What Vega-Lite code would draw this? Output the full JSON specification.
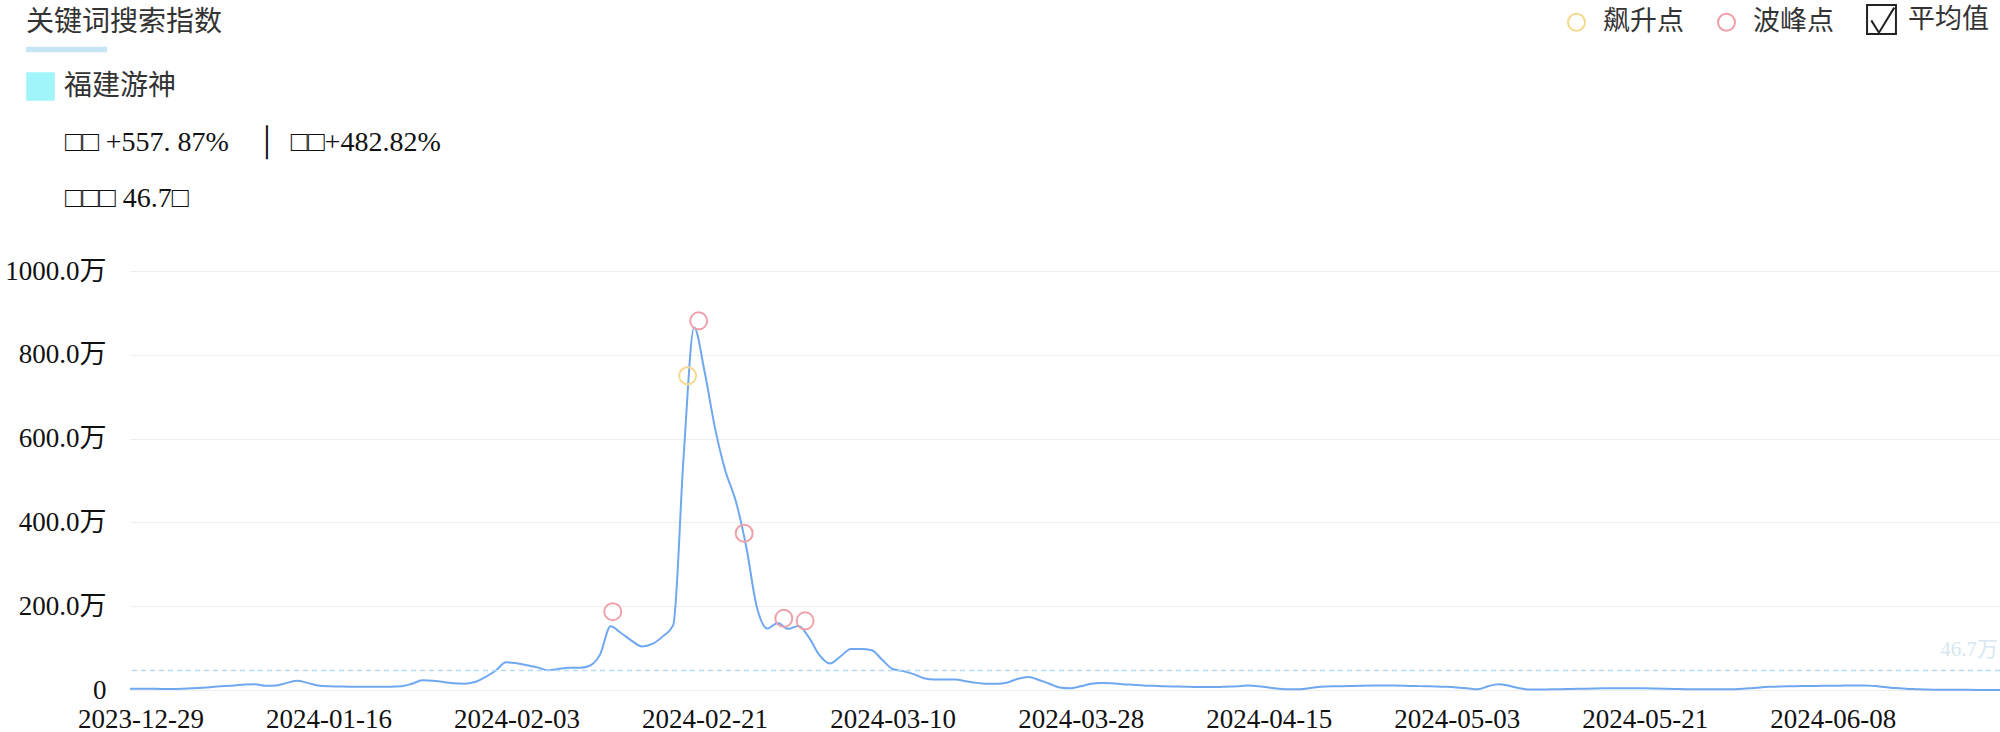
{
 "$schema": "https://vega.github.io/schema/vega-lite/v6.json",
 "autosize": {"type": "none"},
 "width": 1870,
 "height": 419,
 "padding": {"left": 130, "top": 271, "right": 0, "bottom": 42},
 "background": "white",
 "layer": [
  {
   "data": {"values": [
    {"d":"2023-12-28","v":3},{"d":"2023-12-29","v":3},{"d":"2023-12-30","v":3},{"d":"2023-12-31","v":2.5},
    {"d":"2024-01-01","v":2.5},{"d":"2024-01-02","v":3},{"d":"2024-01-03","v":4},{"d":"2024-01-04","v":5.5},
    {"d":"2024-01-05","v":7.5},{"d":"2024-01-06","v":9.5},{"d":"2024-01-07","v":11},{"d":"2024-01-08","v":13},
    {"d":"2024-01-09","v":14},{"d":"2024-01-10","v":10},{"d":"2024-01-11","v":11},{"d":"2024-01-12","v":17},
    {"d":"2024-01-13","v":22},{"d":"2024-01-14","v":17},{"d":"2024-01-15","v":11},{"d":"2024-01-16","v":9},
    {"d":"2024-01-17","v":8.5},{"d":"2024-01-18","v":8},{"d":"2024-01-19","v":8},{"d":"2024-01-20","v":8},
    {"d":"2024-01-21","v":8},{"d":"2024-01-22","v":8},{"d":"2024-01-23","v":9},{"d":"2024-01-24","v":15},
    {"d":"2024-01-25","v":23},{"d":"2024-01-26","v":22},{"d":"2024-01-27","v":19},{"d":"2024-01-28","v":16},
    {"d":"2024-01-29","v":15},{"d":"2024-01-30","v":19},{"d":"2024-01-31","v":31},{"d":"2024-02-01","v":46},
    {"d":"2024-02-02","v":66},{"d":"2024-02-03","v":64},{"d":"2024-02-04","v":59},{"d":"2024-02-05","v":54},
    {"d":"2024-02-06","v":47},{"d":"2024-02-07","v":50},{"d":"2024-02-08","v":53},{"d":"2024-02-09","v":53},
    {"d":"2024-02-10","v":58},{"d":"2024-02-11","v":85},{"d":"2024-02-12","v":152},{"d":"2024-02-13","v":136},
    {"d":"2024-02-14","v":118},{"d":"2024-02-15","v":104},{"d":"2024-02-16","v":110},{"d":"2024-02-17","v":128},
    {"d":"2024-02-18","v":155},{"d":"2024-02-19","v":560},{"d":"2024-02-20","v":865},{"d":"2024-02-21","v":760},
    {"d":"2024-02-22","v":625},{"d":"2024-02-23","v":522},{"d":"2024-02-24","v":450},{"d":"2024-02-25","v":340},
    {"d":"2024-02-26","v":198},{"d":"2024-02-27","v":147},{"d":"2024-02-28","v":160},{"d":"2024-02-29","v":146},
    {"d":"2024-03-01","v":153},{"d":"2024-03-02","v":125},{"d":"2024-03-03","v":83},{"d":"2024-03-04","v":63},
    {"d":"2024-03-05","v":80},{"d":"2024-03-06","v":98},{"d":"2024-03-07","v":98},{"d":"2024-03-08","v":95},
    {"d":"2024-03-09","v":72},{"d":"2024-03-10","v":50},{"d":"2024-03-11","v":45},{"d":"2024-03-12","v":38},
    {"d":"2024-03-13","v":28},{"d":"2024-03-14","v":25},{"d":"2024-03-15","v":25},{"d":"2024-03-16","v":25},
    {"d":"2024-03-17","v":21},{"d":"2024-03-18","v":17},{"d":"2024-03-19","v":15},{"d":"2024-03-20","v":15},
    {"d":"2024-03-21","v":18},{"d":"2024-03-22","v":27},{"d":"2024-03-23","v":31},{"d":"2024-03-24","v":24},
    {"d":"2024-03-25","v":15},{"d":"2024-03-26","v":6},{"d":"2024-03-27","v":4},{"d":"2024-03-28","v":9},
    {"d":"2024-03-29","v":15},{"d":"2024-03-30","v":17},{"d":"2024-03-31","v":16},{"d":"2024-04-01","v":14},
    {"d":"2024-04-02","v":12.5},{"d":"2024-04-03","v":11},{"d":"2024-04-04","v":10},{"d":"2024-04-05","v":9},
    {"d":"2024-04-06","v":8.5},{"d":"2024-04-07","v":8},{"d":"2024-04-08","v":7},{"d":"2024-04-09","v":7},
    {"d":"2024-04-10","v":7},{"d":"2024-04-11","v":8},{"d":"2024-04-12","v":9},{"d":"2024-04-13","v":10.5},
    {"d":"2024-04-14","v":9},{"d":"2024-04-15","v":6},{"d":"2024-04-16","v":3},{"d":"2024-04-17","v":1.5},
    {"d":"2024-04-18","v":2},{"d":"2024-04-19","v":5},{"d":"2024-04-20","v":8},{"d":"2024-04-21","v":9},
    {"d":"2024-04-22","v":9},{"d":"2024-04-23","v":9.5},{"d":"2024-04-24","v":10},{"d":"2024-04-25","v":10.5},
    {"d":"2024-04-26","v":11},{"d":"2024-04-27","v":10.5},{"d":"2024-04-28","v":10},{"d":"2024-04-29","v":9.5},
    {"d":"2024-04-30","v":9},{"d":"2024-05-01","v":8.5},{"d":"2024-05-02","v":7.5},{"d":"2024-05-03","v":6},
    {"d":"2024-05-04","v":4},{"d":"2024-05-05","v":1.5},{"d":"2024-05-06","v":9},{"d":"2024-05-07","v":14},
    {"d":"2024-05-08","v":10},{"d":"2024-05-09","v":4},{"d":"2024-05-10","v":1},{"d":"2024-05-11","v":1},
    {"d":"2024-05-12","v":1.5},{"d":"2024-05-13","v":2},{"d":"2024-05-14","v":2.5},{"d":"2024-05-15","v":3},
    {"d":"2024-05-16","v":3.5},{"d":"2024-05-17","v":4},{"d":"2024-05-18","v":4},{"d":"2024-05-19","v":4},
    {"d":"2024-05-20","v":4},{"d":"2024-05-21","v":4},{"d":"2024-05-22","v":3.5},{"d":"2024-05-23","v":3},
    {"d":"2024-05-24","v":2.5},{"d":"2024-05-25","v":2},{"d":"2024-05-26","v":2},{"d":"2024-05-27","v":2},
    {"d":"2024-05-28","v":2},{"d":"2024-05-29","v":2},{"d":"2024-05-30","v":2.5},{"d":"2024-05-31","v":4},
    {"d":"2024-06-01","v":6},{"d":"2024-06-02","v":7.5},{"d":"2024-06-03","v":8.5},{"d":"2024-06-04","v":9},
    {"d":"2024-06-05","v":9.5},{"d":"2024-06-06","v":9.5},{"d":"2024-06-07","v":10},{"d":"2024-06-08","v":10},
    {"d":"2024-06-09","v":10.5},{"d":"2024-06-10","v":11},{"d":"2024-06-11","v":11},{"d":"2024-06-12","v":9.5},
    {"d":"2024-06-13","v":7},{"d":"2024-06-14","v":4.5},{"d":"2024-06-15","v":3},{"d":"2024-06-16","v":2},
    {"d":"2024-06-17","v":1},{"d":"2024-06-18","v":0.5},{"d":"2024-06-19","v":0.5},{"d":"2024-06-20","v":0.3},
    {"d":"2024-06-21","v":0.3},{"d":"2024-06-22","v":0.2},{"d":"2024-06-23","v":0.2},{"d":"2024-06-24","v":0.2}
   ]},
   "mark": {"type": "line", "interpolate": "monotone", "strokeWidth": 2},
   "encoding": {
    "x": {
     "field": "d", "type": "temporal",
     "scale": {"type": "utc", "domain": [{"year": 2023, "month": 12, "date": 28, "utc": true}, {"year": 2024, "month": 6, "date": 24, "utc": true}]},
     "axis": {
      "values": [
       {"year": 2023, "month": 12, "date": 29, "utc": true},
       {"year": 2024, "month": 1, "date": 16, "utc": true},
       {"year": 2024, "month": 2, "date": 3, "utc": true},
       {"year": 2024, "month": 2, "date": 21, "utc": true},
       {"year": 2024, "month": 3, "date": 10, "utc": true},
       {"year": 2024, "month": 3, "date": 28, "utc": true},
       {"year": 2024, "month": 4, "date": 15, "utc": true},
       {"year": 2024, "month": 5, "date": 3, "utc": true},
       {"year": 2024, "month": 5, "date": 21, "utc": true},
       {"year": 2024, "month": 6, "date": 8, "utc": true}
      ],
      "labelExpr": "utcFormat(datum.value, '%Y-%m-%d')",
      "title": null, "ticks": false, "domain": false, "grid": false,
      "labelFont": "Liberation Serif", "labelFontSize": 27, "labelColor": "#111111",
      "labelPadding": 16, "labelOverlap": false, "labelFlush": false
     }
    },
    "y": {
     "field": "v", "type": "quantitative",
     "scale": {"domain": [0, 1000], "nice": false},
     "axis": {
      "values": [0, 200, 400, 600, 800, 1000],
      "labelExpr": "datum.value == 0 ? '0' : format(datum.value, '.1f') + '万'",
      "title": null, "ticks": false, "domain": false, "grid": true,
      "gridColor": "#eeeeee", "gridWidth": 1,
      "labelFont": "Liberation Serif, Noto Sans CJK SC", "labelFontSize": 27, "labelColor": "#111111",
      "labelPadding": 24
     }
    },
    "color": {
     "datum": "福建游神",
     "scale": {"range": ["#6fa8f0"]},
     "legend": {
      "title": "关键词搜索指数", "titleOrient": "top", "titleAnchor": "start", "titleAlign": "left",
      "titleFont": "Noto Sans CJK SC", "titleFontSize": 28, "titleFontWeight": "normal", "titleColor": "#333333",
      "titlePadding": 35, "titleLimit": 2000,
      "orient": "none", "legendX": -104, "legendY": -262, "padding": 0,
      "symbolType": "square", "symbolSize": 810, "labelFont": "Noto Sans CJK SC", "labelFontSize": 28,
      "labelColor": "#333333", "labelOffset": 9,
      "encode": {"symbols": {"update": {"fill": {"value": "#a0f4fa"}, "stroke": {"value": "transparent"}, "strokeWidth": {"value": 0}, "opacity": {"value": 1}}}}
     }
    }
   }
  },
  {
   "data": {"values": [{"a": 46.7, "k": "平均值"}]},
   "mark": {"type": "rule", "color": "#b5dcf4", "strokeWidth": 1.5},
   "encoding": {
    "y": {"field": "a", "type": "quantitative"},
    "strokeDash": {
     "field": "k", "type": "nominal",
     "scale": {"range": [[5, 4]]},
     "legend": {
      "title": ["□□ +557. 87%\u2003│\u2002□□+482.82%", "□□□ 46.7□"],
      "titleOrient": "bottom", "titleAnchor": "start", "titleAlign": "left",
      "titleFont": "Liberation Serif", "titleFontSize": 28, "titleFontWeight": "normal", "titleColor": "#111111",
      "titleLineHeight": 56, "titlePadding": 74, "titleLimit": 2000,
      "orient": "none", "legendX": -65, "legendY": -262, "padding": 0,
      "symbolType": "M-1,-0.07H1V0.07H-1Z", "symbolSize": 6561, "symbolOffset": -39, "labelExpr": "''",
      "symbolFillColor": "#c8e4f7", "symbolStrokeColor": "transparent", "symbolStrokeWidth": 0,
      "encode": {"symbols": {"update": {"fill": {"value": "#c8e4f7"}, "stroke": {"value": "transparent"}, "strokeWidth": {"value": 0}, "opacity": {"value": 1}}}}
     }
    }
   }
  },
  {
   "data": {"values": [{"d": "2024-06-24", "a": 46.7, "label": "46.7万"}]},
   "mark": {"type": "text", "align": "right", "baseline": "alphabetic", "dy": -14, "dx": -2, "fontSize": 21, "font": "Liberation Serif, Noto Sans CJK SC", "color": "#d8e7f1"},
   "encoding": {
    "x": {"field": "d", "type": "temporal"},
    "y": {"field": "a", "type": "quantitative"},
    "text": {"field": "label"}
   }
  },
  {
   "data": {"values": [
    {"d": "2024-02-12T05:00:00Z", "v": 187, "t": "波峰点"},
    {"d": "2024-02-19T09:00:00Z", "v": 750, "t": "飙升点"},
    {"d": "2024-02-20T10:30:00Z", "v": 881, "t": "波峰点"},
    {"d": "2024-02-24T19:00:00Z", "v": 374, "t": "波峰点"},
    {"d": "2024-02-28T14:00:00Z", "v": 171, "t": "波峰点"},
    {"d": "2024-03-01T15:00:00Z", "v": 165, "t": "波峰点"}
   ]},
   "mark": {"type": "point", "filled": false, "size": 289, "strokeWidth": 2, "opacity": 1},
   "encoding": {
    "x": {"field": "d", "type": "temporal"},
    "y": {"field": "v", "type": "quantitative"},
    "stroke": {
     "field": "t", "type": "nominal",
     "scale": {"domain": ["飙升点", "波峰点", "平均值"], "range": ["#f6d88f", "#f0a0aa", "#222222"]},
     "legend": {
      "title": null, "orient": "none", "legendX": 1433, "legendY": -265, "padding": 0,
      "direction": "horizontal", "symbolSize": 289, "symbolStrokeWidth": 2, "symbolOpacity": 1,
      "labelFont": "Noto Sans CJK SC", "labelFontSize": 27, "labelColor": "#333333",
      "labelOffset": 13, "columnPadding": 29
     }
    },
    "shape": {
     "field": "t", "type": "nominal",
     "scale": {"domain": ["飙升点", "波峰点", "平均值"], "range": ["circle", "circle", "M-1.7,-1.7H1.7V1.7H-1.7Z M-1.2,0.1L-0.3,1.55L1.5,-1.4"]},
     "legend": {
      "title": null, "orient": "none", "legendX": 1433, "legendY": -265, "padding": 0,
      "direction": "horizontal", "symbolSize": 289, "symbolStrokeWidth": 2, "symbolOpacity": 1,
      "labelFont": "Noto Sans CJK SC", "labelFontSize": 27, "labelColor": "#333333",
      "labelOffset": 13, "columnPadding": 29
     }
    }
   }
  }
 ],
 "config": {
  "view": {"stroke": null},
  "legend": {"symbolFillColor": "transparent"}
 }
}
